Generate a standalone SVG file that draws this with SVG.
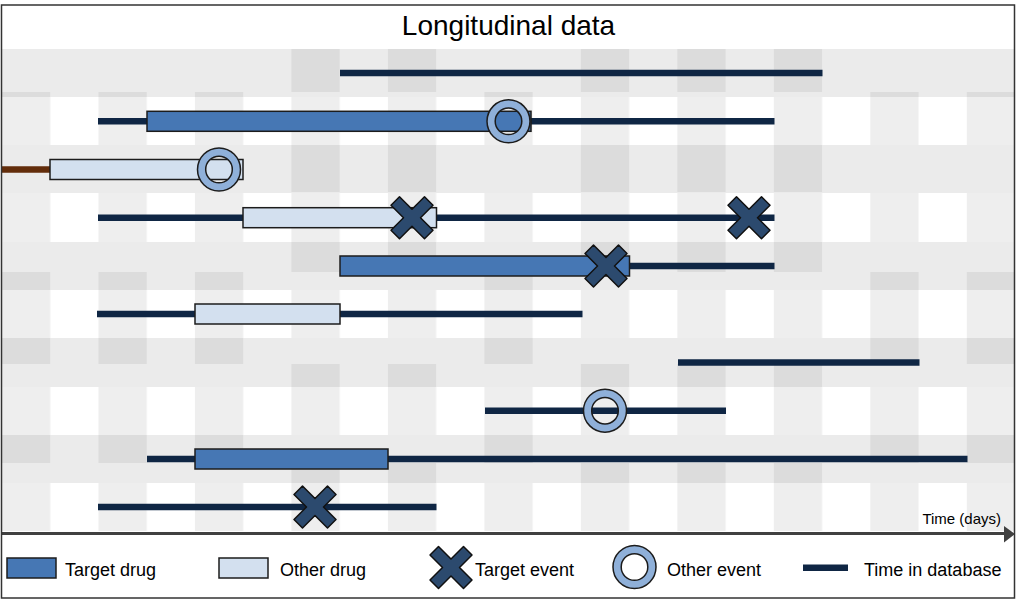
<svg xmlns="http://www.w3.org/2000/svg" width="1024" height="605" viewBox="0 0 1024 605">
<style>
.t{font-family:"Liberation Sans",Arial,sans-serif;fill:#000}
.dk{fill:#dcdcdc}
.band{fill:#ebebeb}
.ln{stroke:#0f2644;stroke-width:6.5;fill:none}
.tb{fill:#4677b4;stroke:#1c1c1c;stroke-width:1.5}
.ob{fill:#d3e0ef;stroke:#1c1c1c;stroke-width:1.5}
.ring{fill:#8fb0d9;stroke:#1c1c1c;stroke-width:1.5;fill-rule:evenodd}
.xm{fill:#2c4a6e;stroke:#111;stroke-width:1.5;stroke-linejoin:round}
</style>
<defs>
<pattern id="vstripe" patternUnits="userSpaceOnUse" x="2" y="0" width="96.48" height="605">
<rect x="0" y="0" width="48.24" height="605" fill="#eeeeee"/>
</pattern>
<path id="ring" d="M-21.5,0a21.5,21.5 0 1,0 43,0a21.5,21.5 0 1,0 -43,0ZM-13.3,0a13.3,13.3 0 1,0 26.6,0a13.3,13.3 0 1,0 -26.6,0Z"/>
<polygon id="xmark" points="-21,-12.5 -12.5,-21 0,-8.5 12.5,-21 21,-12.5 8.5,0 21,12.5 12.5,21 0,8.5 -12.5,21 -21,12.5 -8.5,0"/>
</defs>
<rect x="0" y="0" width="1024" height="605" fill="#ffffff"/>
<g id="background">
<rect x="2" y="49" width="1012" height="482" fill="url(#vstripe)"/>
<rect class="band" x="2" y="49" width="1012" height="48"/>
<rect class="band" x="2" y="145" width="1012" height="48"/>
<rect class="band" x="2" y="242" width="1012" height="48"/>
<rect class="band" x="2" y="338" width="1012" height="49"/>
<rect class="band" x="2" y="435" width="1012" height="48"/>
<!-- band 1 -->
<rect class="dk" x="291.44" y="49" width="48.24" height="43"/>
<rect class="dk" x="387.92" y="49" width="48.24" height="43"/>
<rect class="dk" x="580.88" y="49" width="48.24" height="43"/>
<rect class="dk" x="677.36" y="49" width="48.24" height="43"/>
<rect class="dk" x="773.84" y="49" width="48.24" height="43"/>
<rect class="dk" x="2" y="92" width="48.24" height="5"/>
<rect class="dk" x="98.48" y="92" width="48.24" height="5"/>
<rect class="dk" x="194.96" y="92" width="48.24" height="5"/>
<rect class="dk" x="484.4" y="92" width="48.24" height="5"/>
<rect class="dk" x="870.32" y="92" width="48.24" height="5"/>
<rect class="dk" x="966.8" y="92" width="47.2" height="5"/>
<!-- band 2 -->
<rect class="dk" x="291.44" y="145" width="48.24" height="47"/>
<rect class="dk" x="387.92" y="145" width="48.24" height="47"/>
<rect class="dk" x="580.88" y="145" width="48.24" height="47"/>
<rect class="dk" x="677.36" y="145" width="48.24" height="47"/>
<rect class="dk" x="773.84" y="145" width="48.24" height="47"/>
<!-- band 3 -->
<rect class="dk" x="291.44" y="242" width="48.24" height="30"/>
<rect class="dk" x="387.92" y="242" width="48.24" height="30"/>
<rect class="dk" x="580.88" y="242" width="48.24" height="30"/>
<rect class="dk" x="677.36" y="242" width="48.24" height="30"/>
<rect class="dk" x="773.84" y="242" width="48.24" height="30"/>
<rect class="dk" x="2" y="272" width="48.24" height="18"/>
<rect class="dk" x="98.48" y="272" width="48.24" height="18"/>
<rect class="dk" x="194.96" y="272" width="48.24" height="18"/>
<rect class="dk" x="484.4" y="272" width="48.24" height="18"/>
<rect class="dk" x="870.32" y="272" width="48.24" height="18"/>
<rect class="dk" x="966.8" y="272" width="47.2" height="18"/>
<!-- band 4 -->
<rect class="dk" x="2" y="338" width="48.24" height="26"/>
<rect class="dk" x="98.48" y="338" width="48.24" height="26"/>
<rect class="dk" x="194.96" y="338" width="48.24" height="26"/>
<rect class="dk" x="484.4" y="338" width="48.24" height="26"/>
<rect class="dk" x="870.32" y="338" width="48.24" height="26"/>
<rect class="dk" x="966.8" y="338" width="47.2" height="26"/>
<rect class="dk" x="291.44" y="364" width="48.24" height="23"/>
<rect class="dk" x="387.92" y="364" width="48.24" height="23"/>
<rect class="dk" x="580.88" y="364" width="48.24" height="23"/>
<rect class="dk" x="677.36" y="364" width="48.24" height="23"/>
<rect class="dk" x="773.84" y="364" width="48.24" height="23"/>
<!-- band 5 -->
<rect class="dk" x="2" y="435" width="48.24" height="28"/>
<rect class="dk" x="98.48" y="435" width="48.24" height="28"/>
<rect class="dk" x="194.96" y="435" width="48.24" height="28"/>
<rect class="dk" x="484.4" y="435" width="48.24" height="28"/>
<rect class="dk" x="870.32" y="435" width="48.24" height="28"/>
<rect class="dk" x="966.8" y="435" width="47.2" height="28"/>
<rect class="dk" x="291.44" y="463" width="48.24" height="20"/>
<rect class="dk" x="387.92" y="463" width="48.24" height="20"/>
<rect class="dk" x="580.88" y="463" width="48.24" height="20"/>
<rect class="dk" x="677.36" y="463" width="48.24" height="20"/>
<rect class="dk" x="773.84" y="463" width="48.24" height="20"/>
</g>
<text class="t" x="508.5" y="35" font-size="28" text-anchor="middle">Longitudinal data</text>
<g id="row0"><line class="ln" x1="340" y1="73" x2="822.5" y2="73"/></g>
<g id="row1">
<line class="ln" x1="98" y1="121.3" x2="774.5" y2="121.3"/>
<rect class="tb" x="147" y="111.3" width="384" height="20"/>
<use href="#ring" class="ring" x="508.5" y="121.3"/>
</g>
<g id="row2">
<line x1="2" y1="169.5" x2="50" y2="169.5" stroke="#632d0b" stroke-width="6.5"/>
<rect class="ob" x="50" y="159.5" width="193" height="20"/>
<use href="#ring" class="ring" x="219" y="169.5"/>
</g>
<g id="row3">
<line class="ln" x1="98" y1="217.7" x2="774.5" y2="217.7"/>
<rect class="ob" x="243" y="207.7" width="193.5" height="20"/>
<use href="#xmark" class="xm" x="412" y="217.7"/>
<use href="#xmark" class="xm" x="749" y="217.7"/>
</g>
<g id="row4">
<line class="ln" x1="629" y1="266" x2="774.5" y2="266"/>
<rect class="tb" x="340" y="256" width="289.5" height="20"/>
<use href="#xmark" class="xm" x="606" y="266"/>
</g>
<g id="row5">
<line class="ln" x1="97" y1="314" x2="582.5" y2="314"/>
<rect class="ob" x="195" y="304" width="145" height="20"/>
</g>
<g id="row6"><line class="ln" x1="678" y1="362.5" x2="919.5" y2="362.5"/></g>
<g id="row7">
<line class="ln" x1="485" y1="410.7" x2="726" y2="410.7"/>
<use href="#ring" class="ring" x="605" y="410.7"/>
</g>
<g id="row8">
<line class="ln" x1="147" y1="459" x2="967.5" y2="459"/>
<rect class="tb" x="195" y="449" width="193" height="20"/>
</g>
<g id="row9">
<line class="ln" x1="98" y1="507" x2="436.5" y2="507"/>
<use href="#xmark" class="xm" x="315" y="507"/>
</g>
<g id="axis">
<line x1="2" y1="533.5" x2="1006" y2="533.5" stroke="#404040" stroke-width="3"/>
<polygon points="1004,526 1015,534 1004,542.5" fill="#404040"/>
<text class="t" x="1001" y="524" font-size="15" text-anchor="end">Time (days)</text>
</g>
<g id="legend">
<rect class="tb" x="7" y="558" width="49" height="20"/>
<text class="t" x="65" y="575.5" font-size="18">Target drug</text>
<rect class="ob" x="219" y="558" width="49" height="20"/>
<text class="t" x="280" y="575.5" font-size="18">Other drug</text>
<use href="#xmark" class="xm" x="451" y="567.5"/>
<text class="t" x="475" y="575.5" font-size="18">Target event</text>
<use href="#ring" class="ring" x="634.5" y="567"/>
<text class="t" x="667" y="575.5" font-size="18">Other event</text>
<line class="ln" x1="803" y1="567.7" x2="848" y2="567.7"/>
<text class="t" x="864" y="575.5" font-size="18">Time in database</text>
</g>
<rect x="1.5" y="5" width="1013" height="593" fill="none" stroke="#333333" stroke-width="1.5"/>
</svg>
